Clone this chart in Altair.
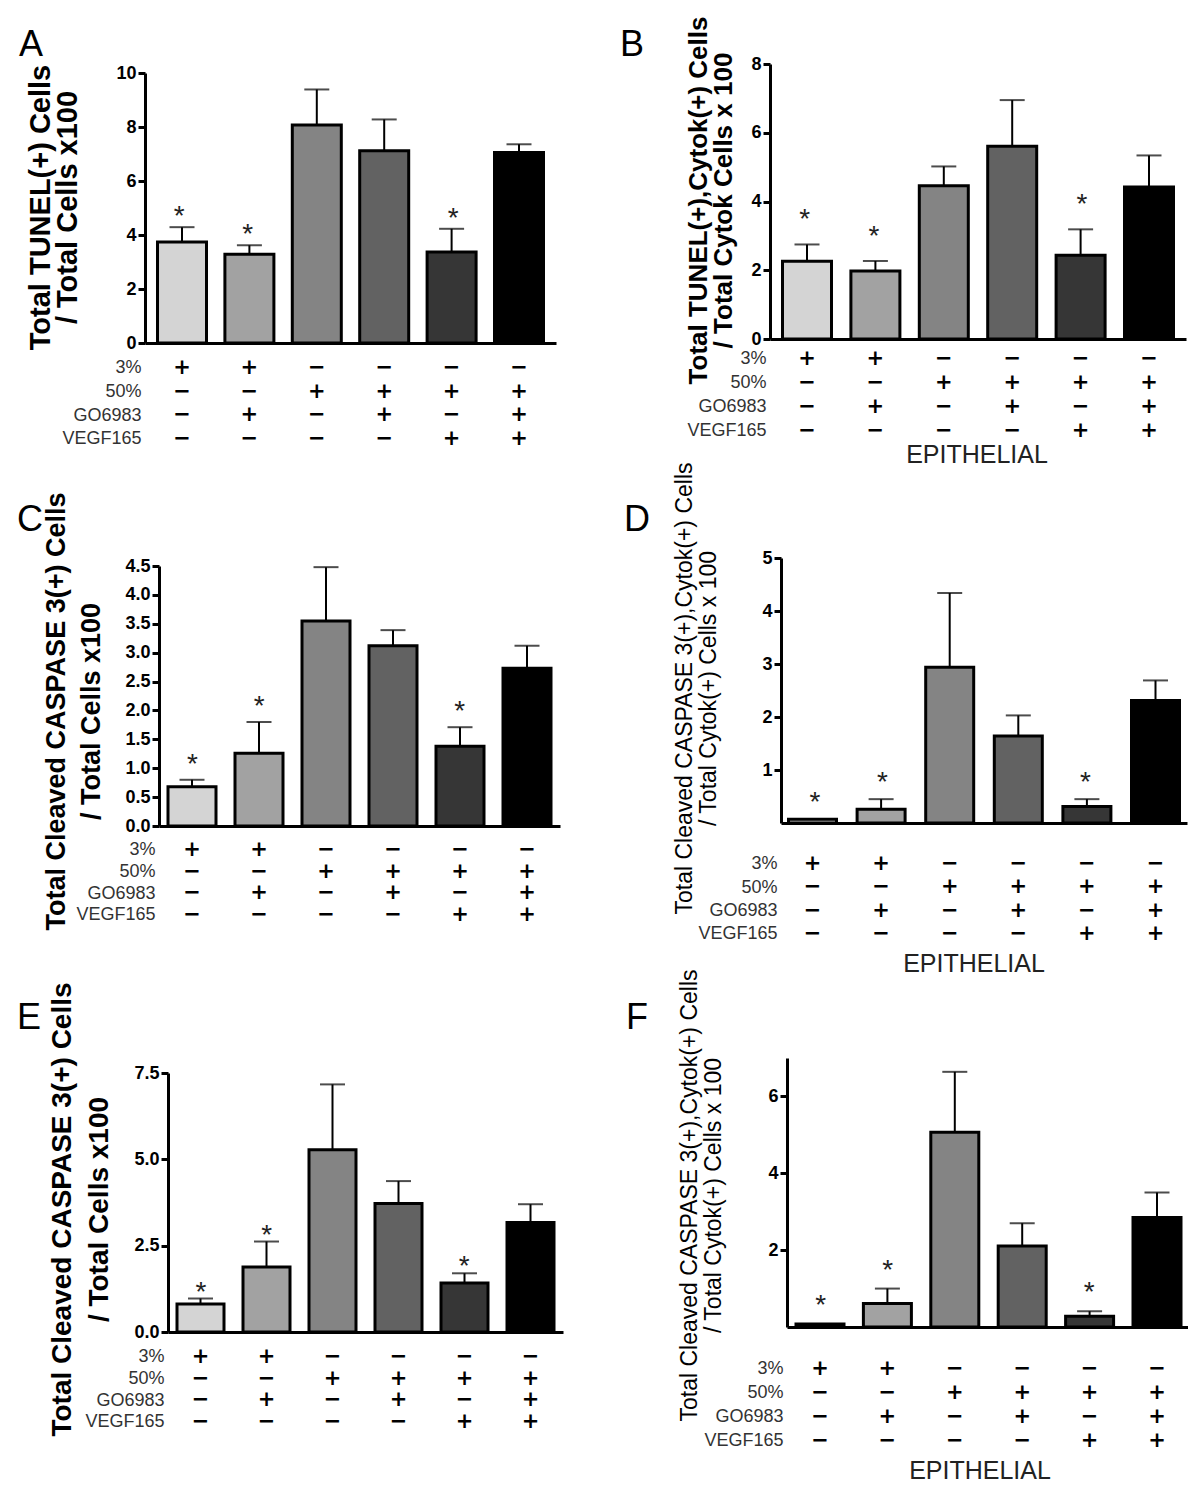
import altair as alt
import pandas as pd

# ---------------- data ----------------
row_names = ["3%", "50%", "GO6983", "VEGF165"]
sign_3 = ["+", "+", "−", "−", "−", "−"]
sign_50 = ["−", "−", "+", "+", "+", "+"]
sign_go = ["−", "+", "−", "+", "−", "+"]
sign_vegf = ["−", "−", "−", "−", "+", "+"]
bar_colors = ["#d4d4d4", "#a2a2a2", "#848484", "#626262", "#363636", "#000000"]
star_flags = [1, 1, 0, 0, 1, 0]

a_mean = [3.74, 3.29, 8.07, 7.12, 3.37, 7.06]
a_top = [4.29, 3.62, 9.39, 8.28, 4.23, 7.36]
b_mean = [2.26, 1.98, 4.46, 5.61, 2.44, 4.42]
b_top = [2.75, 2.27, 5.02, 6.95, 3.19, 5.34]
c_mean = [0.68, 1.26, 3.55, 3.12, 1.38, 2.73]
c_top = [0.80, 1.80, 4.48, 3.39, 1.71, 3.12]
d_mean = [0.07, 0.26, 2.94, 1.64, 0.31, 2.31]
d_top = [0.07, 0.45, 4.34, 2.03, 0.45, 2.69]
e_mean = [0.81, 1.88, 5.28, 3.72, 1.42, 3.17]
e_top = [0.97, 2.62, 7.17, 4.37, 1.70, 3.70]
f_mean = [0.08, 0.61, 5.07, 2.11, 0.28, 2.85]
f_top = [0.08, 1.00, 6.64, 2.70, 0.41, 3.50]

cond_keys = ["|".join(s) for s in zip(sign_3, sign_50, sign_go, sign_vegf)]

# ---------------- layout (page pixels) ----------------
M = 8  # page margin
W, H = 1180, 1470
SANS = "Liberation Sans"
SIGN_FONT = "DejaVu Sans"

panels = [
    dict(letter="A", mean=a_mean, top=a_top, xl=145, xr=556, c1=183, c6=520, bw=49,
         ytop=73, y0=343, dmax=10, ticks=[0, 2, 4, 6, 8, 10], fmt="d",
         title=["Total TUNEL(+) Cells", "/ Total Cells x100"], tfs=29, tbold=True, tx=26, tlh=27, tcy=207,
         row1=366, rlh=23.7, star=16, lx=31, ly=45, epi=None),
    dict(letter="B", mean=b_mean, top=b_top, xl=770, xr=1186, c1=808, c6=1150, bw=49,
         ytop=64, y0=339, dmax=8, ticks=[0, 2, 4, 6, 8], fmt="d",
         title=["Total TUNEL(+),Cytok(+) Cells", "/ Total Cytok Cells x 100"], tfs=26, tbold=True, tx=685, tlh=25, tcy=200,
         row1=357, rlh=24, star=30, lx=632, ly=45, epi=(977, 455)),
    dict(letter="C", mean=c_mean, top=c_top, xl=159, xr=560, c1=195, c6=530, bw=48,
         ytop=566, y0=826, dmax=4.5, ticks=[0, 0.5, 1, 1.5, 2, 2.5, 3, 3.5, 4, 4.5], fmt=".1f",
         title=["Total Cleaved CASPASE 3(+) Cells", "/ Total Cells x100"], tfs=27, tbold=True, tx=43, tlh=35, tcy=711,
         row1=848, rlh=21.7, star=21, lx=30, ly=520, epi=None),
    dict(letter="D", mean=d_mean, top=d_top, xl=781, xr=1187, c1=815, c6=1158, bw=48,
         ytop=558, y0=823, dmax=5, ticks=[1, 2, 3, 4, 5], fmt="d",
         title=["Total Cleaved CASPASE 3(+),Cytok(+) Cells", "/ Total Cytok(+) Cells x 100"], tfs=23, tbold=False, tx=673, tlh=24, tcy=688,
         row1=862, rlh=23.3, star=22, lx=637, ly=520, epi=(974, 964)),
    dict(letter="E", mean=e_mean, top=e_top, xl=168, xr=563, c1=205, c6=535, bw=47,
         ytop=1073, y0=1332, dmax=7.5, ticks=[0, 2.5, 5, 7.5], fmt=".1f",
         title=["Total Cleaved CASPASE 3(+) Cells", "/ Total Cells x100"], tfs=28, tbold=True, tx=48, tlh=37, tcy=1209,
         row1=1355, rlh=21.7, star=12, lx=29, ly=1018, epi=None),
    dict(letter="F", mean=f_mean, top=f_top, xl=787, xr=1190, c1=818, c6=1155, bw=48,
         ytop=1058, y0=1327, dmax=7, ticks=[2, 4, 6], fmt="d",
         title=["Total Cleaved CASPASE 3(+),Cytok(+) Cells", "/ Total Cytok(+) Cells x 100"], tfs=23, tbold=False, tx=678, tlh=24, tcy=1195,
         row1=1367, rlh=24, star=24, lx=637, ly=1018, epi=(980, 1471)),
]

SIGN_FS = 21
TICK_FS = 18
ROW_FS = 18

layers = []
for p in panels:
    df = pd.DataFrame({
        "cond": cond_keys,
        "mean": p["mean"],
        "top": p["top"],
        "star": star_flags,
    })
    df["sem"] = df["top"] - df["mean"]

    xl, xr = p["xl"] - M, p["xr"] - M
    step = (p["c6"] - p["c1"]) / 5.0
    pin = 1 - p["bw"] / step
    pout = ((xr - xl) / step - 6 + pin) / 2
    y0, ytop = p["y0"] - M, p["ytop"] - M

    def xs():
        return alt.Scale(domain=cond_keys, range=[xl, xr], paddingInner=pin, paddingOuter=max(pout, 0))

    def ys():
        return alt.Scale(domain=[0, p["dmax"]], range=[y0, ytop], nice=False, zero=True)

    lpad = (p["row1"] - p["y0"]) - 0.45 * SIGN_FS
    xaxis = alt.Axis(
        orient="bottom", offset=y0 - H, domainWidth=3, domainColor="black",
        ticks=False, grid=False, zindex=2,
        labelExpr="split(datum.label, '|')", labelLineHeight=p["rlh"],
        labelFont=SIGN_FONT, labelFontSize=SIGN_FS, labelFontWeight="bold", labelColor="black",
        labelPadding=lpad, labelAngle=0, labelOverlap=False, labelBaseline="top",
        title=row_names, titleFont=SANS, titleFontSize=ROW_FS, titleFontWeight="normal",
        titleColor="#333333", titleAlign="right", titleBaseline="top", titleAngle=0,
        titleLineHeight=p["rlh"], titleX=xl - 4, titleY=lpad + 0.45 * SIGN_FS - 0.40 * ROW_FS,
    )
    yaxis = alt.Axis(
        orient="left", offset=-xl, domainWidth=3, domainColor="black", zindex=2,
        tickWidth=3, tickSize=7, tickColor="black", grid=False,
        values=p["ticks"], format=p["fmt"],
        labelFont=SANS, labelFontSize=TICK_FS, labelFontWeight="bold", labelColor="black",
        labelPadding=2,
        title=p["title"], titleFont=SANS, titleFontSize=p["tfs"],
        titleFontWeight="bold" if p["tbold"] else "normal", titleColor="black",
        titleAngle=-90, titleBaseline="top", titleAlign="center", titleLineHeight=p["tlh"],
        titleX=(p["tx"] - M) - xl, titleY=p["tcy"] - M,
    )

    bars = alt.Chart(df).mark_bar(stroke="black", strokeWidth=3).encode(
        x=alt.X("cond:N", scale=xs(), axis=xaxis, sort=cond_keys),
        y=alt.Y("mean:Q", scale=ys(), axis=yaxis),
        color=alt.Color("cond:N", scale=alt.Scale(domain=cond_keys, range=bar_colors), legend=None),
    )
    err = alt.Chart(df).transform_filter("datum.sem > 0").mark_rule(color="black", strokeWidth=2).encode(
        x=alt.X("cond:N", scale=xs(), axis=None, sort=cond_keys),
        y=alt.Y("mean:Q", scale=ys(), axis=None), y2="top:Q",
    )
    cap = alt.Chart(df).transform_filter("datum.sem > 0").mark_tick(
        color="black", thickness=2, size=25, orient="horizontal"
    ).encode(
        x=alt.X("cond:N", scale=xs(), axis=None, sort=cond_keys),
        y=alt.Y("top:Q", scale=ys(), axis=None),
    )
    stars = alt.Chart(df).transform_filter("datum.star == 1").mark_text(
        text="*", font=SANS, fontSize=28, baseline="middle", dy=-p["star"] + 6, color="#222222"
    ).encode(
        x=alt.X("cond:N", scale=xs(), axis=None, sort=cond_keys),
        y=alt.Y("top:Q", scale=ys(), axis=None),
    )
    layers += [bars, err, cap, stars]

# annotation texts (panel letters, EPITHELIAL)
one = pd.DataFrame({"k": [0]})
for p in panels:
    layers.append(
        alt.Chart(one).mark_text(text=p["letter"], font=SANS, fontSize=36, align="center",
                                 baseline="middle", color="black")
        .encode(x=alt.value(p["lx"] - M), y=alt.value(p["ly"] - M))
    )
    if p["epi"]:
        layers.append(
            alt.Chart(one).mark_text(text="EPITHELIAL", font=SANS, fontSize=25, align="center",
                                     baseline="middle", color="#222222")
            .encode(x=alt.value(p["epi"][0] - M), y=alt.value(p["epi"][1] - M))
        )

chart = alt.layer(*layers).resolve_scale(
    x="independent", y="independent"
).resolve_axis(x="independent", y="independent").properties(
    width=W, height=H, padding=0, background="white"
).configure_view(stroke=None)

chart.save("out.html", embed_options={"renderer": "svg", "actions": False})
